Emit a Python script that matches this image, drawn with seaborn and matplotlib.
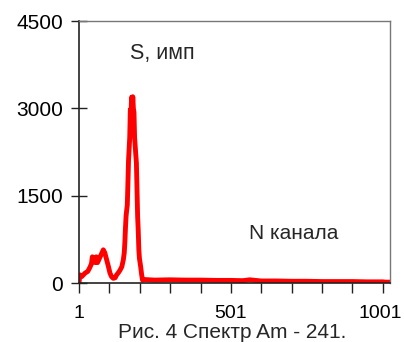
import numpy as np
import pandas as pd
import matplotlib
matplotlib.use('Agg')
import matplotlib.pyplot as plt
import seaborn as sns
from matplotlib.ticker import FixedLocator
from matplotlib.transforms import ScaledTranslation

# channel numbers and counts
channel = [1, 4, 10, 21, 30, 37, 42, 45, 49, 52, 55, 58, 62, 68, 75, 81, 86,
           92, 98, 103, 108, 114, 120, 125, 131, 136, 142, 147, 150, 152, 154,
           156, 158, 160, 162, 164, 166, 168, 170, 172, 174, 176, 178, 180,
           182, 184, 186, 188, 190, 192, 194, 196, 198, 200, 202, 204, 207,
           210, 215, 250, 300, 350, 400, 450, 500, 540, 563, 600, 650, 700,
           750, 800, 850, 900, 950, 1000, 1010, 1024]
counts = [0, 140, 110, 170, 200, 270, 330, 450, 380, 430, 350, 450, 350, 420,
          500, 570, 520, 400, 280, 170, 110, 80, 90, 140, 180, 220, 280, 400,
          520, 700, 950, 1150, 1250, 1340, 1700, 2100, 2300, 2500, 2980, 2850,
          3190, 2900, 3200, 3000, 2930, 2500, 2350, 2200, 2060, 1600, 1140,
          900, 570, 420, 350, 280, 150, 50, 60, 50, 55, 50, 50, 45, 45, 40, 55,
          35, 35, 30, 30, 25, 25, 25, 20, 20, 15, 15]

x_ticks = [1, 501, 1001]
x_minor = list(range(1, 1002, 100))
y_ticks = [0, 1500, 3000, 4500]

sns.set_style("white")
plt.rcParams['font.family'] = ['Liberation Sans', 'DejaVu Sans']

df = pd.DataFrame({'channel': channel, 'counts': counts})

fig = plt.figure(figsize=(4.04, 3.42), dpi=100)
ax = fig.add_axes([0.1955, 0.1725, 0.7695, 0.766])
sns.lineplot(data=df, x='channel', y='counts', color='#ff0000', linewidth=3.5,
             ax=ax, legend=False)

ax.set_xlim(1, 1024)
ax.set_ylim(0, 4500)
ax.set_xticks(x_ticks)
ax.xaxis.set_minor_locator(FixedLocator(x_minor))
ax.set_yticks(y_ticks)
ax.set_xlabel('')
ax.set_ylabel('')

ax.tick_params(axis='y', direction='inout', length=11, width=1, colors='#222222',
               labelsize=15, pad=6, left=True)
ax.tick_params(axis='x', which='both', direction='out', length=7, width=1,
               colors='#222222', labelsize=14, pad=9, bottom=True)
ax.tick_params(axis='x', which='minor', labelbottom=False)
for lbl in ax.get_xticklabels() + ax.get_yticklabels():
    lbl.set_color('black')
# nudge the last label a little so it stays inside the figure
last = ax.get_xticklabels()[-1]
last.set_transform(last.get_transform() + ScaledTranslation(-3 / 100, 0, fig.dpi_scale_trans))

for side in ['left', 'bottom']:
    ax.spines[side].set_color('#222222')
    ax.spines[side].set_linewidth(1.2)
for side in ['top', 'right']:
    ax.spines[side].set_color('#777777')
    ax.spines[side].set_linewidth(1)

ax.text(0.165, 0.875, 'S, имп', transform=ax.transAxes, fontsize=15.5,
        ha='left', va='center')
ax.text(0.548, 0.19, 'N канала', transform=ax.transAxes, fontsize=15,
        ha='left', va='center')

# caption sits just under the x tick labels
fig.canvas.draw()
r = fig.canvas.get_renderer()
low = min(t.get_window_extent(r).y0 for t in ax.get_xticklabels())
fig.text(0.575, (low - 0.5) / fig.bbox.height, 'Рис. 4 Спектр Am - 241.',
         fontsize=15, ha='center', va='top')

fig.savefig('out.png', dpi=100)
